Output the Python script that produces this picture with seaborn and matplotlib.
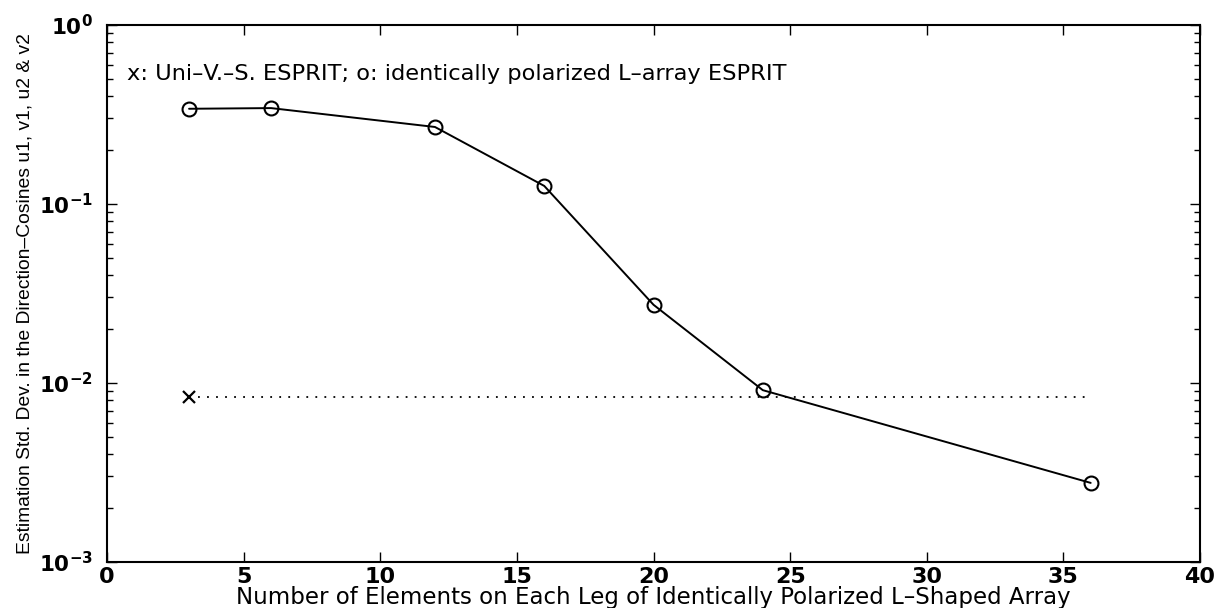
import numpy as np
import pandas as pd
import matplotlib
matplotlib.use("Agg")
import matplotlib.pyplot as plt
import matplotlib.ticker as mticker
import seaborn as sns

# values
n_elements = [3, 6, 12, 16, 20, 24, 36]
lshape_std = [0.340, 0.343, 0.269, 0.126, 0.0273, 0.0091, 0.00276]
uvs_n = [3, 36]
uvs_std = [0.00836, 0.00836]

x_ticks = [0, 5, 10, 15, 20, 25, 30, 35, 40]
note = "x: Uni\u2013V.\u2013S. ESPRIT; o: identically polarized L\u2013array ESPRIT"
x_label = "Number of Elements on Each Leg of Identically Polarized L\u2013Shaped Array"
y_label = "Estimation Std. Dev. in the Direction\u2013Cosines u1, v1, u2 & v2"

sns.set_style("ticks")
plt.rcParams["font.family"] = ["DejaVu Sans"]
plt.rcParams["mathtext.fontset"] = "dejavusans"
plt.rcParams["text.color"] = "black"
plt.rcParams["axes.labelcolor"] = "black"

lshape = pd.DataFrame({"n": n_elements, "std": lshape_std})
uvs = pd.DataFrame({"n": uvs_n, "std": uvs_std})

fig = plt.figure(figsize=(12.17, 6.08), dpi=100)
ax = fig.add_axes([0.088, 0.076, 0.898, 0.883])

sns.lineplot(data=lshape, x="n", y="std", ax=ax, color="black", lw=1.4,
             marker="o", ms=10, mfc="none", mec="black", mew=1.5)
sns.lineplot(data=uvs, x="n", y="std", ax=ax, color="black", lw=1.3,
             marker="x", ms=9, mec="black", mew=1.6, markevery=[0])
ax.lines[-1].set_dashes((1, 4))

ax.set_yscale("log")
ax.set_xlim(0, 40)
ax.set_ylim(1e-3, 1e0)
ax.set_xticks(x_ticks)
ax.yaxis.set_major_locator(mticker.LogLocator(base=10, numticks=5))
ax.yaxis.set_major_formatter(mticker.FuncFormatter(
    lambda v, pos: r"$\mathbf{10}^{\mathbf{%d}}$" % round(np.log10(v))))
ax.yaxis.set_minor_locator(mticker.LogLocator(base=10, subs=np.arange(2, 10), numticks=20))
ax.yaxis.set_minor_formatter(mticker.NullFormatter())

ax.tick_params(which="both", direction="in", top=True, right=True, width=1, colors="black")
ax.tick_params(which="major", length=7)
ax.tick_params(which="minor", length=4)
ax.tick_params(axis="y", which="major", labelsize=15.5, pad=10)
ax.tick_params(axis="x", which="major", labelsize=16, pad=4)
for lab in ax.get_xticklabels():
    lab.set_fontweight("bold")
for sp in ax.spines.values():
    sp.set_linewidth(1.5)
    sp.set_color("black")

ax.set_xlabel(x_label, fontsize=16.5, labelpad=-1)
ax.set_ylabel(y_label, fontsize=13.9, labelpad=4,
              family=["Liberation Sans Narrow", "Liberation Sans", "DejaVu Sans"])
ax.text(0.73, 0.53, note, fontsize=16.2, va="center", ha="left")

fig.savefig("out.png", dpi=100)
